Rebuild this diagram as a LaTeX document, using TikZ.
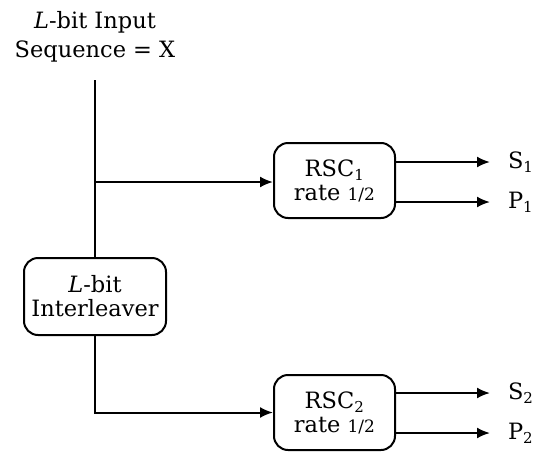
\documentclass[tikz,border=0pt]{standalone}
\usepackage{fontspec}
\setmainfont{DejaVu Serif}
\usetikzlibrary{arrows.meta}

\begin{document}
\begin{tikzpicture}[x=1pt,y=-1pt, line width=2pt, >={Latex[length=13pt,width=11pt]},
  font=\fontsize{22.5}{29}\selectfont]
  \tikzset{blk/.style={draw, rounded corners=14pt, align=center, inner sep=0pt,
      font=\fontsize{22.5}{24}\selectfont},
    outlbl/.style={anchor=west, inner xsep=17pt, inner ysep=0pt}}
  \useasboundingbox (0,0) rectangle (536,453);
  % input text and the line below it
  \node[align=center] (seq) at (95,37) {\textit{L}-bit Input\\Sequence = X};
  \coordinate (top) at (95,80);
  % the blocks
  \node[blk, minimum width=142pt, minimum height=77pt] (ilv) at (95,296.5) {\textit{L}-bit\\Interleaver};
  \node[blk, minimum width=121pt, minimum height=75pt] (rsc1) at (334.5,180.5) {RSC\textsubscript{\fontsize{15}{15}\selectfont 1}\\rate {\fontsize{17}{17}\selectfont 1/2}};
  \node[blk, minimum width=121pt, minimum height=75pt] (rsc2) at (334.5,412.5) {RSC\textsubscript{\fontsize{15}{15}\selectfont 2}\\rate {\fontsize{17}{17}\selectfont 1/2}};
  % input to interleaver, branch to RSC1
  \draw (top) -- (ilv.north);
  \coordinate (br) at (95,182);
  \draw[->] (br) -- (br -| rsc1.west);
  % interleaver to RSC2
  \draw[->] (ilv.south) |- (rsc2.west);
  % outputs
  \node[outlbl] (s1) at (490,162) {S\textsubscript{\fontsize{15}{15}\selectfont 1}};
  \node[outlbl] (p1) at (490,202) {P\textsubscript{\fontsize{15}{15}\selectfont 1}};
  \node[outlbl] (s2) at (490,393) {S\textsubscript{\fontsize{15}{15}\selectfont 2}};
  \node[outlbl] (p2) at (490,433) {P\textsubscript{\fontsize{15}{15}\selectfont 2}};
  \draw[->] (rsc1.east |- s1) -- (s1.west);
  \draw[->] (rsc1.east |- p1) -- (p1.west);
  \draw[->] (rsc2.east |- s2) -- (s2.west);
  \draw[->] (rsc2.east |- p2) -- (p2.west);
\end{tikzpicture}
\end{document}
